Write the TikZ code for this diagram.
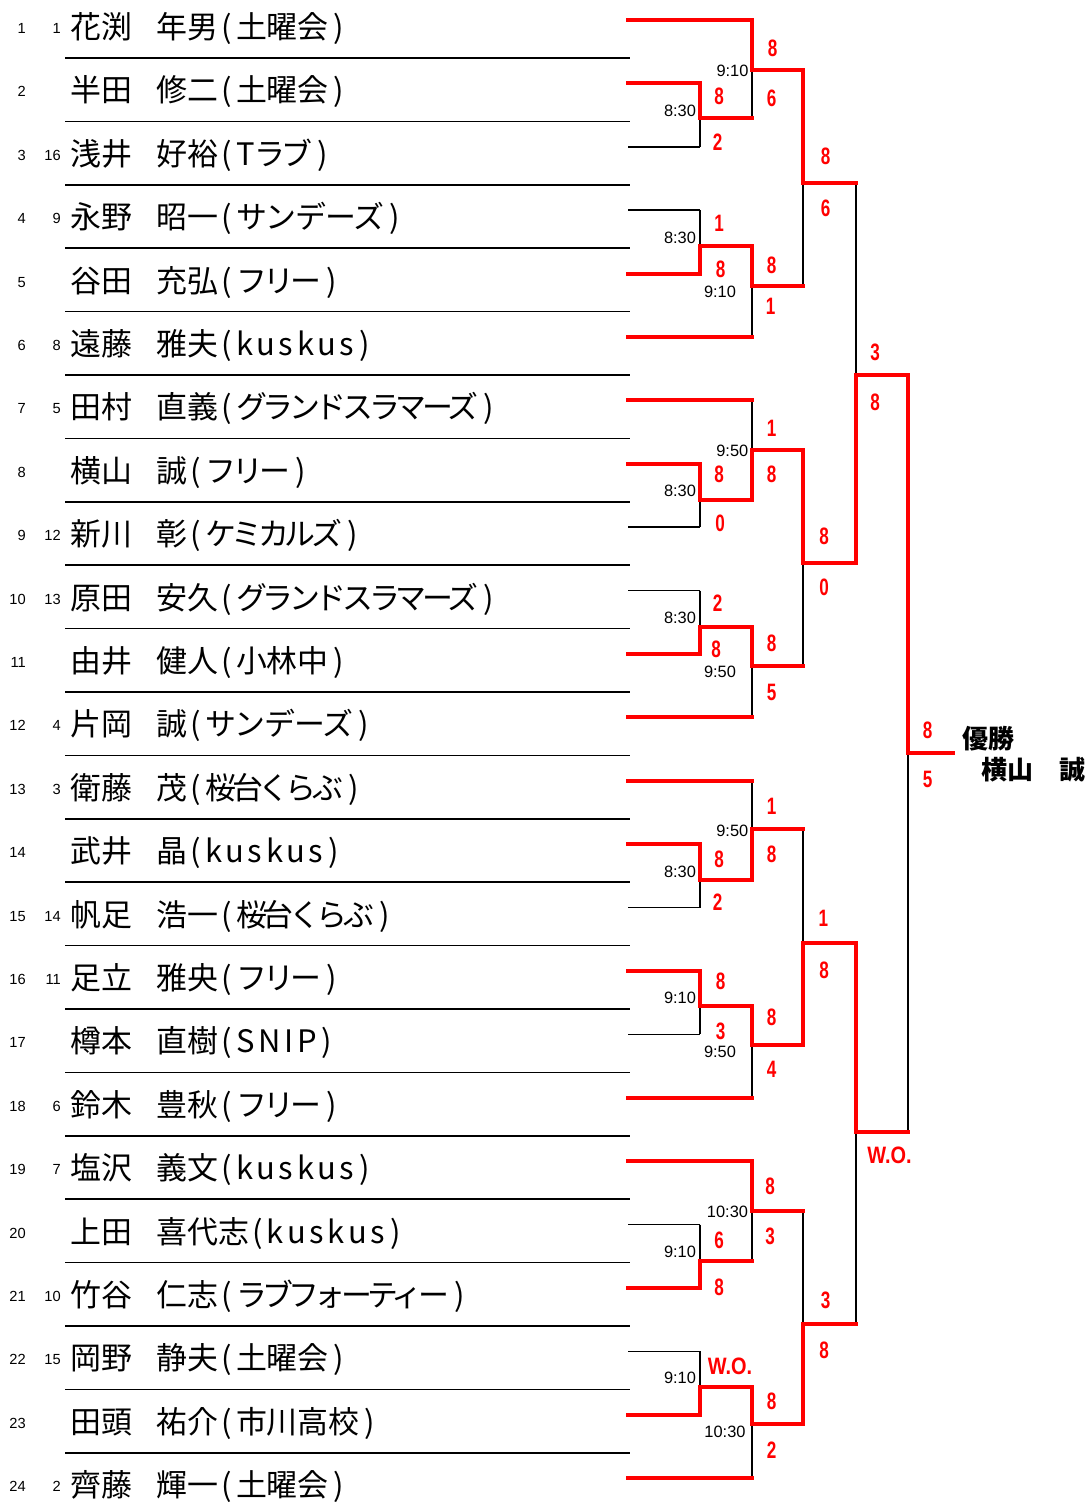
\documentclass[tikz,border=0pt]{standalone}
\usepackage{fontspec}
\setmainfont{Noto Sans CJK JP}
\newfontfamily\arialfont{Liberation Sans}
\newfontfamily\scorefam{Liberation Sans}[FakeStretch=0.72]
\newfontfamily\wofam{Liberation Sans}[FakeStretch=0.84]
\newcommand\ls[1]{{\addfontfeatures{LetterSpace=12}#1}}
\newcommand\kn[2]{{\addfontfeatures{LetterSpace=#1}#2}}
\newcommand\pl[3]{\makebox[64.5pt][l]{#1}#2\hspace{0.12em}(\hspace{0.12em}#3\hspace{0.16em})}
\tikzset{
  blk/.style={line width=1.1pt, draw=black},
  win/.style={line width=3pt, draw=red, line cap=rect, line join=miter},
  sepline/.style={line width=1.1pt, draw=black},
  namet/.style={anchor=base west, inner sep=0pt, font=\fontsize{23.2}{25}\selectfont},
  numt/.style={anchor=base east, inner sep=0pt, font=\arialfont\fontsize{11}{13}\selectfont},
  timet/.style={inner sep=0pt, font=\arialfont\fontsize{12.3}{14}\selectfont},
  scoret/.style={inner sep=0pt, text=red, font=\scorefam\bfseries\fontsize{17.8}{20}\selectfont},
  wot/.style={inner sep=0pt, text=red, font=\wofam\bfseries\fontsize{17.8}{20}\selectfont},
  champ/.style={anchor=west, inner sep=0pt, font=\bfseries\fontsize{19.5}{22}\selectfont},
}
\begin{document}
\begin{tikzpicture}[x=0.75pt,y=-0.75pt]
\useasboundingbox (0,0) rectangle (1088,1506);
% ---------- rows ----------
\foreach \i/\s/\txt in {
 1/1/{\pl{花渕}{年男}{土曜会}},
 2//{\pl{半田}{修二}{土曜会}},
 3/16/{\pl{浅井}{好裕}{\ls{T}\kn{-12}{ラブ}}},
 4/9/{\pl{永野}{昭一}{\kn{-4}{サンデーズ}}},
 5//{\pl{谷田}{充弘}{\kn{-12}{フリー}}},
 6/8/{\pl{遠藤}{雅夫}{\ls{kuskus}}},
 7/5/{\pl{田村}{直義}{\kn{-14}{グランドスラマーズ}}},
 8//{\pl{横山}{誠}{\kn{-12}{フリー}}},
 9/12/{\pl{新川}{彰}{\kn{-13}{ケミカルズ}}},
 10/13/{\pl{原田}{安久}{\kn{-14}{グランドスラマーズ}}},
 11//{\pl{由井}{健人}{小林中}},
 12/4/{\pl{片岡}{誠}{\kn{-4}{サンデーズ}}},
 13/3/{\pl{衛藤}{茂}{\kn{-13}{桜台くらぶ}}},
 14//{\pl{武井}{晶}{\ls{kuskus}}},
 15/14/{\pl{帆足}{浩一}{\kn{-13}{桜台くらぶ}}},
 16/11/{\pl{足立}{雅央}{\kn{-12}{フリー}}},
 17//{\pl{樽本}{直樹}{\ls{SNIP}}},
 18/6/{\pl{鈴木}{豊秋}{\kn{-12}{フリー}}},
 19/7/{\pl{塩沢}{義文}{\ls{kuskus}}},
 20//{\pl{上田}{喜代志}{\ls{kuskus}}},
 21/10/{\pl{竹谷}{仁志}{\kn{-15}{ラブフォーティー}}},
 22/15/{\pl{岡野}{静夫}{土曜会}},
 23//{\pl{田頭}{祐介}{市川高校}},
 24/2/{\pl{齊藤}{輝一}{土曜会}}} {
  \node[numt] (r\i) at (26,{27+(\i-1)*63.4+6.5}) {\i};
  \node[numt] (sd\i) at (61,{27+(\i-1)*63.4+6.5}) {\s};
  \node[namet] (n\i) at (70,{27+(\i-1)*63.4+11.5}) {\txt};
}
\foreach \i in {1,...,23}
  \draw[sepline] (65,{58+(\i-1)*63.4}) -- (630,{58+(\i-1)*63.4});
% ---------- player line coordinates ----------
\foreach \i/\e in {1/752,2/700,3/700,4/700,5/700,6/752,7/752,8/700,9/700,10/700,11/700,12/752,
  13/752,14/700,15/700,16/700,17/700,18/752,19/752,20/700,21/700,22/700,23/700,24/752} {
  \coordinate (p\i) at (628,{20+(\i-1)*63.4});
  \coordinate (e\i) at (\e,{20+(\i-1)*63.4});
}
% ---------- match junctions ----------
\foreach \m/\x/\y/\o in {m1/700/118/752, m2/700/246/752, m3/700/500/752, m4/700/627/752,
  m5/700/880/752, m6/700/1006/752, m7/700/1261/752, m8/700/1387/752,
  n1/752/70/803, n2/752/286/803, n3/752/450/803, n4/752/666/803,
  n5/752/829/803, n6/752/1045/803, n7/752/1211/803, n8/752/1424/803,
  q1/803/183/856, q2/803/563/856, q3/803/943/856, q4/803/1324/856,
  s1/856/375/908, s2/856/1132/908, f/908/753/953} {
  \coordinate (\m) at (\x,\y);
  \coordinate (\m-o) at (\o,\y);
}
% ---------- black lines ----------
\foreach \i in {3,4,9,10,15,17,20,22} \draw[blk] (p\i) -- (e\i);
\foreach \a/\b in {e2/e3, e4/e5, e8/e9, e10/e11, e14/e15, e16/e17, e20/e21, e22/e23,
  e1/m1-o, m2-o/e6, e7/m3-o, m4-o/e12, e13/m5-o, m6-o/e18, e19/m7-o, m8-o/e24,
  n1-o/n2-o, n3-o/n4-o, n5-o/n6-o, n7-o/n8-o, q1-o/q2-o, q3-o/q4-o, s1-o/s2-o}
  \draw[blk] (\a) -- (\b);
% ---------- red lines ----------
\foreach \i in {1,2,5,6,7,8,11,12,13,14,16,18,19,21,23,24} \draw[win] (p\i) -- (e\i);
\foreach \w/\m in {e2/m1, e5/m2, e8/m3, e11/m4, e14/m5, e16/m6, e21/m7, e23/m8,
  e1/n1, m2-o/n2, m3-o/n3, m4-o/n4, m5-o/n5, m6-o/n6, e19/n7, m8-o/n8,
  n1-o/q1, n3-o/q2, n6-o/q3, n8-o/q4, q2-o/s1, q3-o/s2, s1-o/f}
  \draw[win] (\w) -- (\m) -- (\m-o);
% ---------- scores ----------
\foreach \k/\x/\y/\v in {
 1/772.7/48.3/8, 2/771.7/98.3/6, 3/719/96/8, 4/717.7/142.7/2, 5/825.7/156.7/8, 6/825.7/208.3/6,
 7/719/223.3/1, 8/720.7/269.3/8, 9/771.7/265/8, 10/770.7/306.7/1, 11/875/352.7/3, 12/875/402.7/8,
 13/771.7/428.3/1, 14/719/474.3/8, 15/771.7/474.3/8, 16/720/523.3/0, 17/824/536.7/8, 18/824/587.3/0,
 19/717.7/603.3/2, 20/771.7/643.3/8, 21/716/649.3/8, 22/771.7/692.7/5, 23/927.7/730/8, 24/927.7/779.3/5,
 25/771.7/806/1, 26/719/859/8, 27/771.7/854.3/8, 28/717.7/902.7/2, 29/823.3/918.3/1, 30/824/970/8,
 31/720.7/981/8, 32/771.7/1017.7/8, 33/720.7/1031/3, 34/771.7/1069.3/4, 35/770/1186/8, 36/719/1240/6,
 37/770/1236.7/3, 38/719/1287.7/8, 39/825.7/1300.7/3, 40/824/1350/8, 41/771.7/1401.7/8, 42/771.7/1450/2}
  \node[scoret] (sc\k) at (\x,\y) {\v};
\node[wot] (wo1) at (889.5,1155) {W.O.};
\node[wot] (wo2) at (730,1366) {W.O.};
% ---------- times ----------
\foreach \k/\x/\y/\v in {
 1/732.5/71/9:10, 2/680/111/8:30, 3/680/237.7/8:30, 4/720/292.3/9:10,
 5/732.3/451/9:50, 6/680/491/8:30, 7/680/617.7/8:30, 8/720/671.7/9:50,
 9/732.3/831/9:50, 10/680/872.3/8:30, 11/680/997.7/9:10, 12/720/1052.3/9:50,
 13/727.5/1211.7/10:30, 14/680/1251.7/9:10, 15/680/1378.3/9:10, 16/725/1432.3/10:30}
  \node[timet] (tm\k) at (\x,\y) {\v};
% ---------- champion ----------
\node[champ] (ch1) at (962,739) {優勝};
\node[champ] (ch2) at (981,770) {横山　誠};
\end{tikzpicture}
\end{document}
